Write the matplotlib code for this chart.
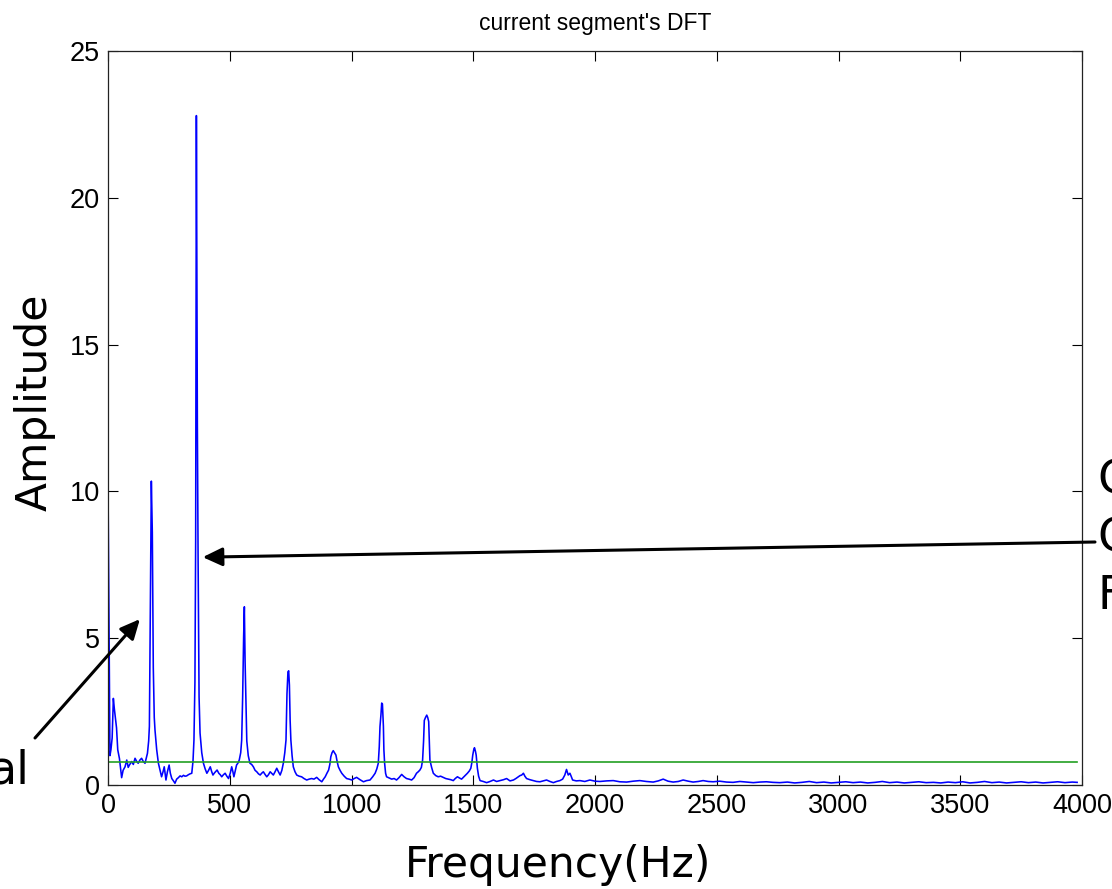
import numpy as np
import matplotlib
matplotlib.use("Agg")
import matplotlib.pyplot as plt

# spectrum: (Hz, amplitude)
pasmo_niskie = [
    (0, 10.3), (4, 5.6), (8, 1.0), (12, 1.2), (17, 1.6), (22, 2.95), (26, 2.6), (30, 2.3),
    (35, 1.95), (40, 1.2), (47, 0.9), (56, 0.25), (62, 0.5), (70, 0.62), (77, 0.85), (83, 0.6),
    (88, 0.68), (97, 0.8), (104, 0.7), (111, 0.91), (118, 0.8), (124, 0.74), (131, 0.85),
    (138, 0.91), (145, 0.8), (152, 0.74), (158, 0.95), (162, 1.08), (167, 1.5), (170, 2.0),
    (174, 6.2), (178, 10.35), (182, 8.6), (186, 4.0), (190, 2.3), (193, 1.87), (200, 1.2),
    (207, 0.74), (214, 0.5), (220, 0.28), (226, 0.45), (231, 0.62), (238, 0.17), (244, 0.45),
    (251, 0.68), (256, 0.4), (262, 0.22), (268, 0.15), (275, 0.06), (282, 0.2), (289, 0.25),
    (296, 0.31), (303, 0.28), (310, 0.33), (316, 0.3), (323, 0.31), (330, 0.35), (337, 0.38),
    (344, 0.4), (349, 0.8), (353, 1.53), (357, 3.5), (360, 8.3), (363, 22.8), (365, 17.6),
    (367, 12.3), (370, 7.7), (374, 3.0), (378, 1.77), (385, 1.1), (392, 0.74), (399, 0.55),
    (406, 0.4), (413, 0.5), (420, 0.62), (426, 0.45), (431, 0.34), (438, 0.42), (448, 0.51),
    (455, 0.4), (461, 0.35), (467, 0.28), (474, 0.35), (481, 0.4), (488, 0.3), (495, 0.22),
    (502, 0.4), (508, 0.62), (513, 0.45), (517, 0.28), (523, 0.5), (528, 0.68), (534, 0.75),
    (539, 0.85), (545, 1.1), (549, 1.53), (553, 3.0), (557, 5.05), (560, 6.07), (563, 4.2),
    (566, 3.0), (570, 1.5), (576, 1.0), (583, 0.74), (590, 0.7), (597, 0.62), (604, 0.5),
]
pasmo_srednie = [
    (611, 0.45), (618, 0.38), (625, 0.34), (631, 0.4), (638, 0.45), (645, 0.36), (652, 0.28),
    (659, 0.35), (666, 0.45), (672, 0.4), (679, 0.34), (686, 0.45), (693, 0.57), (700, 0.45),
    (707, 0.34), (714, 0.5), (720, 0.74), (726, 1.1), (731, 1.53), (735, 3.1), (739, 3.85),
    (742, 3.89), (745, 3.4), (748, 2.2), (751, 1.53), (756, 1.0), (761, 0.62), (768, 0.45),
    (775, 0.34), (785, 0.3), (795, 0.28), (805, 0.22), (816, 0.17), (826, 0.2), (836, 0.22),
    (846, 0.2), (857, 0.26), (867, 0.18), (878, 0.11), (885, 0.2), (892, 0.28), (899, 0.4),
    (906, 0.51), (911, 0.7), (915, 0.96), (920, 1.1), (925, 1.17), (930, 1.1), (936, 1.02),
    (941, 0.8), (946, 0.62), (953, 0.5), (960, 0.4), (970, 0.3), (980, 0.22), (990, 0.2),
    (1001, 0.17), (1011, 0.22), (1021, 0.26), (1035, 0.18), (1049, 0.11), (1062, 0.15),
    (1076, 0.17), (1087, 0.28), (1097, 0.4), (1104, 0.55), (1110, 0.74), (1114, 1.3),
    (1117, 1.99), (1121, 2.4), (1124, 2.79), (1127, 2.76), (1131, 2.0), (1133, 1.2),
    (1136, 0.74), (1140, 0.4), (1144, 0.28), (1155, 0.24), (1165, 0.2), (1175, 0.22),
    (1185, 0.17), (1195, 0.25), (1206, 0.36), (1216, 0.28), (1226, 0.22), (1236, 0.2),
    (1247, 0.17), (1257, 0.25), (1267, 0.4), (1274, 0.45), (1281, 0.51), (1287, 0.6),
    (1292, 0.85), (1296, 1.5), (1299, 2.2), (1304, 2.3), (1309, 2.38), (1313, 2.3),
    (1317, 2.16), (1320, 1.4), (1322, 0.85), (1329, 0.6), (1336, 0.4), (1346, 0.32),
    (1356, 0.28), (1366, 0.3), (1377, 0.26), (1387, 0.22), (1397, 0.2), (1408, 0.18),
    (1418, 0.15), (1426, 0.22), (1435, 0.28), (1443, 0.24), (1452, 0.2), (1464, 0.3),
    (1476, 0.4), (1484, 0.48), (1490, 0.57), (1494, 0.75), (1498, 1.02), (1502, 1.2),
    (1505, 1.27), (1509, 1.15), (1512, 1.02), (1517, 0.57), (1522, 0.3), (1528, 0.15),
]
pasmo_wysokie = [
    (1541, 0.12), (1555, 0.08), (1569, 0.12), (1583, 0.17), (1596, 0.12), (1610, 0.15),
    (1624, 0.18), (1637, 0.22), (1651, 0.14), (1665, 0.17), (1675, 0.22), (1685, 0.28),
    (1692, 0.32), (1699, 0.34), (1706, 0.4), (1712, 0.3), (1719, 0.22), (1733, 0.18),
    (1747, 0.15), (1760, 0.12), (1774, 0.11), (1788, 0.14), (1801, 0.17), (1815, 0.12),
    (1829, 0.08), (1842, 0.12), (1856, 0.15), (1867, 0.2), (1876, 0.34), (1883, 0.53),
    (1887, 0.42), (1890, 0.34), (1897, 0.4), (1902, 0.3), (1908, 0.17), (1923, 0.14),
    (1938, 0.15), (1958, 0.12), (1979, 0.17), (2000, 0.13), (2020, 0.12), (2048, 0.14),
    (2075, 0.15), (2102, 0.11), (2130, 0.1), (2157, 0.13), (2184, 0.15), (2211, 0.12),
    (2239, 0.1), (2260, 0.14), (2280, 0.2), (2300, 0.13), (2321, 0.1), (2342, 0.12),
    (2362, 0.17), (2383, 0.13), (2403, 0.1), (2424, 0.12), (2444, 0.15), (2465, 0.12),
    (2485, 0.11), (2512, 0.13), (2540, 0.1), (2567, 0.09), (2595, 0.12), (2622, 0.1),
    (2650, 0.08), (2677, 0.1), (2704, 0.11), (2731, 0.09), (2759, 0.08), (2790, 0.1),
    (2820, 0.07), (2850, 0.09), (2880, 0.12), (2910, 0.08), (2940, 0.1), (2970, 0.07),
    (3000, 0.09), (3030, 0.11), (3060, 0.08), (3090, 0.1), (3120, 0.07), (3150, 0.09),
    (3180, 0.12), (3210, 0.08), (3240, 0.1), (3270, 0.07), (3300, 0.09), (3330, 0.11),
    (3360, 0.08), (3390, 0.09), (3420, 0.07), (3450, 0.1), (3480, 0.08), (3510, 0.11),
    (3540, 0.07), (3570, 0.09), (3600, 0.12), (3630, 0.08), (3660, 0.1), (3690, 0.07),
    (3720, 0.09), (3750, 0.11), (3780, 0.08), (3810, 0.1), (3840, 0.07), (3870, 0.09),
    (3900, 0.11), (3930, 0.08), (3960, 0.1), (3980, 0.09),
]
prog = 0.77  # green threshold line
xticki = [0, 500, 1000, 1500, 2000, 2500, 3000, 3500, 4000]
yticki = [0, 5, 10, 15, 20, 25]

widmo = np.array(pasmo_niskie + pasmo_srednie + pasmo_wysokie)
czest = widmo[:, 0]
ampl = widmo[:, 1]

fig = plt.figure(figsize=(11.12, 8.89), dpi=100)
ax = fig.add_axes([108 / 1112, 104 / 889, 974 / 1112, 734 / 889])

ax.plot(czest, ampl, color="#0000ff", lw=1.15)
ax.plot([czest[0], czest[-1]], [prog, prog], color="#22a022", lw=1.2)

ax.set_xlim(0, 4000)
ax.set_ylim(0, 25)
ax.set_xticks(xticki)
ax.set_yticks(yticki)
ax.tick_params(direction="in", length=7, width=0.8, top=True, right=True,
               labelsize=19.5, colors="black")
ax.tick_params(axis="x", pad=6)
ax.tick_params(axis="y", pad=6)
for lab in ax.get_xticklabels() + ax.get_yticklabels():
    lab.set_family("Liberation Sans")
for s in ax.spines.values():
    s.set_linewidth(0.9)
    s.set_color("#222222")

ax.set_title("current segment's DFT", fontsize=16.5, family="Liberation Sans", pad=15)

fig.text(558 / 1112, 12 / 889, "Frequency(Hz)", fontsize=30.5, ha="center", va="baseline")
fig.text(47 / 1112, 487 / 889, "Amplitude", fontsize=30.5, rotation=90,
         rotation_mode="anchor", ha="center", va="baseline")

# strzalki
styl = dict(arrowstyle="-|>,head_length=0.85,head_width=0.4", color="black",
            lw=2.2, mutation_scale=14, shrinkA=0, shrinkB=0)
ax.annotate("", xy=(389, 7.76), xycoords="data", xytext=(1095, 347),
            textcoords="figure pixels", arrowprops=styl, annotation_clip=False)
ax.annotate("", xy=(131, 5.65), xycoords="data", xytext=(35, 151),
            textcoords="figure pixels", arrowprops=styl, annotation_clip=False)

# obciete podpisy przy brzegach (w oryginale tez uciete)
fig.text(1097 / 1112, 396 / 889, "C", fontsize=33, va="baseline")
fig.text(1097 / 1112, 338 / 889, "C", fontsize=33, va="baseline")
fig.text(1097 / 1112, 280 / 889, "F", fontsize=33, va="baseline")
fig.text(29 / 1112, 106 / 889, "al", fontsize=33, ha="right", va="baseline")

fig.savefig("out.png", dpi=100)
